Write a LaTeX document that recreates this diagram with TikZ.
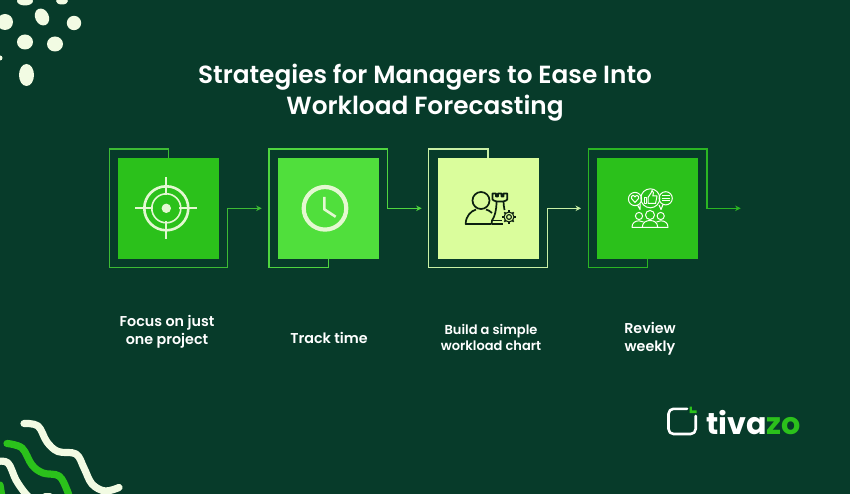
\documentclass[tikz,border=0pt]{standalone}
\usepackage{fontspec}
\setmainfont{Poppins}[BoldFont=Poppins SemiBold]
\newfontfamily\logofont{Poppins Bold}
\usetikzlibrary{arrows.meta}
\definecolor{bgc}{HTML}{073B2A}
\definecolor{gA}{HTML}{2BC11B}
\definecolor{gB}{HTML}{50DF3C}
\definecolor{gC}{HTML}{DAFD9C}
\definecolor{lA}{HTML}{3DBB34}
\definecolor{lB}{HTML}{4FD53F}
\definecolor{lC}{HTML}{C9F0A5}
\definecolor{lD}{HTML}{2BB523}
\definecolor{cream}{HTML}{F2FBE3}
\definecolor{iconA}{HTML}{E4F8D2}
\definecolor{ink}{HTML}{0B1F10}
\tikzset{
  card/.style={minimum width=101pt,minimum height=101.5pt,inner sep=0pt,outer sep=0pt},
  link/.style={line width=1.2pt,-{Stealth[length=5.5pt,width=5.5pt]}},
  caption/.style={text=white,font=\bfseries\fontsize{14.3}{18}\selectfont,align=center,inner sep=0pt},
  wave/.style={line width=7.2pt,line cap=round,line join=round},
  blob/.style={fill=cream,draw=none},
}
\begin{document}
\begin{tikzpicture}[x=1pt,y=-1pt]
\fill[bgc] (0,0) rectangle (850,494);
\useasboundingbox (0,0) rectangle (850,494);

% decorations
\begin{scope}
\clip (0,0) rectangle (850,494);
\fill[blob] (25,1) ellipse [x radius=8,y radius=4.5];
\fill[blob] (62,1) ellipse [x radius=6,y radius=3.5];
\fill[blob] (5,22) ellipse [x radius=8,y radius=8];
\fill[blob,rotate around={25:(42,17)}] (42,17) ellipse [x radius=6.8,y radius=8.8];
\fill[blob] (74,23) ellipse [x radius=7.2,y radius=7.2];
\fill[blob] (25,42) ellipse [x radius=8,y radius=7.5];
\fill[blob] (55,44) ellipse [x radius=8,y radius=7.5];
\fill[blob] (0,58) circle (2.5);
\fill[blob] (26.5,75) ellipse [x radius=7.5,y radius=11];
\draw[wave,cream] plot[smooth,tension=0.6] coordinates {(24,423.5) (38,426) (47,442) (58,451.5) (76,454) (84,468) (92,484) (105,491) (119,487.5)};
\draw[wave,gA] plot[smooth,tension=0.6] coordinates {(7,443.5) (22,448) (32,465) (43,473) (59,476) (67,490) (70,500)};
\draw[wave,cream] plot[smooth,tension=0.6] coordinates {(-3,461.5) (8,463) (16,480) (25,493) (32,500)};
\draw[wave,cream] (45,497) -- (50,497);
\draw[wave,gA] (0,485) -- (2,497);
\end{scope}

% title
\node[text=white,font=\bfseries\fontsize{24.8}{31}\selectfont,align=center,inner sep=0pt] (title) at (425,92.3)
  {Strategies for Managers to Ease Into\\Workload Forecasting};

% cards
\node[card,fill=gA] (b1) at (168.5,208.4) {};
\node[card,fill=gB] (b2) at (328.5,208.4) {};
\node[card,fill=gC] (b3) at (488,208.4) {};
\node[card,fill=gA] (b4) at (647.8,208.4) {};

% arrow ends
\coordinate (e1) at (261.7,208.3);
\coordinate (e2) at (421.7,208.3);
\coordinate (e3) at (581,208.3);
\coordinate (e4) at (740.7,208.3);

% connectors
\draw[link,lA] (b1.north) |- (109.3,149) |- (227.7,267.7) |- (e1);
\draw[link,lB] (b2.south) |- (269,267.7) |- (387.3,149) |- (e2);
\draw[link,lC] (b3.north) |- (428.3,149) |- (547.3,267.7) |- (e3);
\draw[link,lD] (b4.south) |- (588.3,267.7) |- (707,149) |- (e4);

% target icon
\begin{scope}[iconA,shift={(166.3,208.3)}]
\draw[line width=2.6pt] (0,0) circle (22);
\draw[line width=1.6pt] (0,0) circle (14.5);
\fill (0,0) circle (4.7);
\draw[line width=2pt] (-31,0) -- (-13,0) (13,0) -- (31,0) (0,-31) -- (0,-13) (0,13) -- (0,31);
\end{scope}

% clock icon
\begin{scope}[iconA,shift={(325,208.3)}]
\draw[line width=4.2pt] (0,0) circle (21.3);
\draw[line width=2.6pt,line join=miter] (-0.7,-11.5) -- (-0.7,1) -- (10.7,8.5);
\end{scope}

% person with rook icon
\begin{scope}[ink,line width=1.7pt,line join=round]
\draw (481,200.5) circle (8.5);
\draw (491.5,224) -- (465.7,224) .. controls (465.7,216) and (471,211) .. (476,209.5);
\draw (486,209.5) .. controls (488,210) and (490,211) .. (492,213);
% rook
\draw (492.5,193.5) -- (492.5,199.5) .. controls (493,200.5) and (495,201) .. (497,201.5) -- (503,201.5) .. controls (505,201) and (507,200.5) .. (507.2,199.5) -- (507.2,193.5) -- (503.5,193.5) -- (503.5,196.5) -- (501.5,196.5) -- (501.5,193.5) -- (498,193.5) -- (498,196.5) -- (496,196.5) -- (496,193.5) -- cycle;
\draw (496.5,201.5) .. controls (496.5,210) and (495,216) .. (492,220.5) -- (491.5,224);
\draw (503.5,201.5) .. controls (503.5,204) and (504,207) .. (504.5,210);
\draw (491.5,220.5) -- (502,220.5) (491.5,224) -- (503,224);
% gear
\draw[line width=1.1pt] (509,217) circle (5);
\draw[line width=1.1pt] (509,217) circle (2.4);
\foreach \a in {0,45,...,315} \draw[line width=1.6pt] (509,217) ++(\a:5) -- ++(\a:1.7);
\end{scope}

% review icon
\begin{scope}[white!92!gC,line width=1pt,line join=round]
\draw (650.3,198.3) circle (9.5);
\draw (635,199) circle (6.6);
\draw (665.7,198.3) circle (6.6);
\draw (637.5,205) -- (640,209.5) -- (640,203.5);
\draw (663,204.5) -- (661,209.5) -- (659,205);
% heart
\draw (635,202.5) -- (631.5,198.5) .. controls (630.5,195.5) and (634,194.5) .. (635,197) .. controls (636,194.5) and (639.5,195.5) .. (638.5,198.5) -- cycle;
% thumb
\draw (644.5,197.5) rectangle (646.8,203.5);
\draw (648,197.5) -- (651,193) -- (652,190.5) .. controls (654,191) and (653.5,194) .. (652.8,196) -- (657,196) -- (655.5,203.5) -- (648,203.5) -- cycle;
% lines
\draw (662,195.5) -- (669.5,195.5) (661.5,198.3) -- (670,198.3) (662,201) -- (669.5,201);
% people
\draw (650,215) circle (4.5);
\draw (639,216) circle (3.6);
\draw (660.7,216) circle (3.6);
\draw (642.3,227.3) -- (657.7,227.3) .. controls (657.7,222.5) and (654,220.5) .. (650,220.5) .. controls (646,220.5) and (642.3,222.5) .. (642.3,227.3) -- cycle;
\draw (642.3,227.3) -- (632,227.3) .. controls (632,223) and (635,220.8) .. (639,220.8) .. controls (640.5,220.8) and (642,221.2) .. (643.5,222);
\draw (657.7,227.3) -- (668,227.3) .. controls (668,223) and (665,220.8) .. (660.7,220.8) .. controls (659.2,220.8) and (657.8,221.2) .. (656.5,222);
\end{scope}

% captions
\node[caption] (c1) at (167,332) {Focus on just\\one project};
\node[caption] (c2) at (329,337.5) {Track time};
\node[caption,font=\bfseries\fontsize{13}{16}\selectfont] (c3) at (491,337) {Build a simple\\workload chart};
\node[caption] (c4) at (650,338.5) {Review\\weekly};

% logo
\draw[white,line width=2.6pt,line cap=round,line join=round,rounded corners=5pt] (687,408.8) -- (668.5,408.8) -- (668.5,434) -- (695.7,434) -- (695.7,416);
\fill[gA] (689.5,406.5) -- (691.8,406.5) -- (691.8,410.3) -- (696.5,410.3) -- (696.5,413) -- (689.5,413) -- cycle;
\node[anchor=base west,inner sep=0pt,font=\logofont\fontsize{30.2}{30}\selectfont,text=white] (logo) at (706,434) {tiva\textcolor{gA}{zo}};
\end{tikzpicture}
\end{document}
